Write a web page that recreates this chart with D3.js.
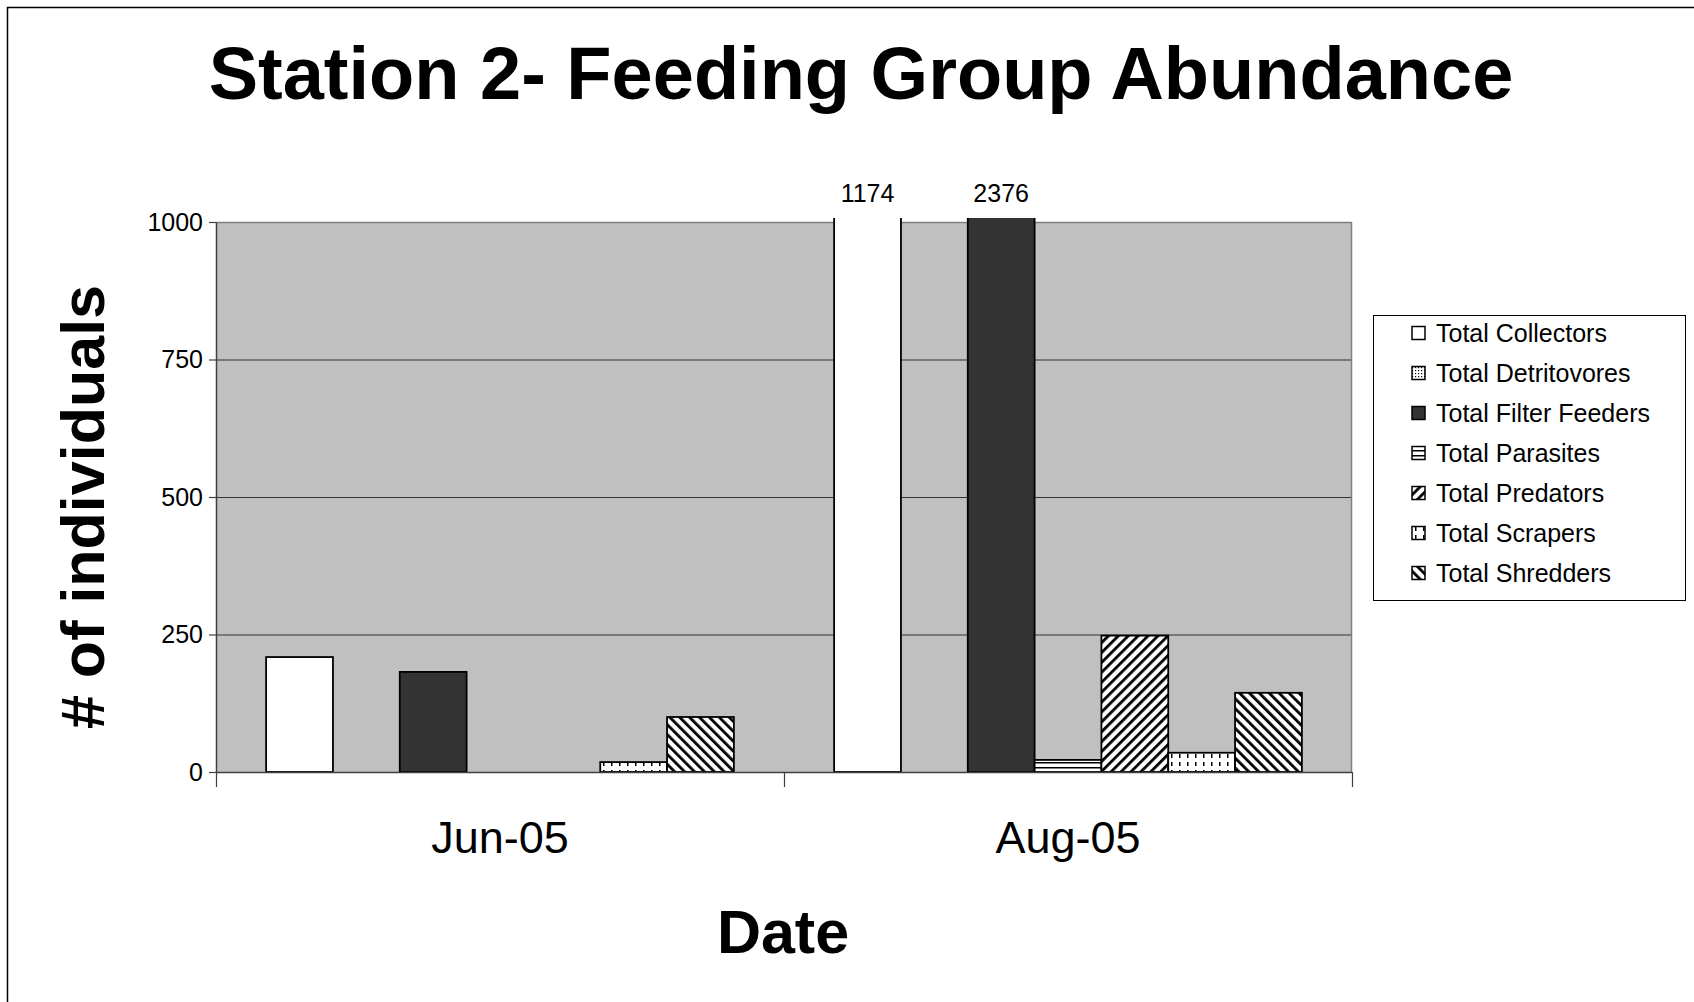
<!DOCTYPE html>
<html><head><meta charset="utf-8">
<script src="https://cdn.jsdelivr.net/npm/d3@7"></script>
<style>body{margin:0;background:#fff}svg{display:block}text{font-family:"Liberation Sans",Arial,sans-serif;fill:#000}</style>
</head><body><svg id="c" width="1694" height="1002"></svg>
<script>
const categories = ["Jun-05", "Aug-05"];
const seriesNames = ["Total Collectors", "Total Detritovores", "Total Filter Feeders", "Total Parasites", "Total Predators", "Total Scrapers", "Total Shredders"];
const collectors = [209, 1174];
const detritovores = [0, 0];
const filterFeeders = [182, 2376];
const parasites = [0, 22];
const predators = [0, 248];
const scrapers = [18, 35];
const shredders = [100, 144];
const yTicks = [0, 250, 500, 750, 1000];
const yMax = 1000;

const seriesValues = [collectors, detritovores, filterFeeders, parasites, predators, scrapers, shredders];
const fills = ["#ffffff", "url(#pDet)", "#333333", "url(#pPar)", "url(#pPred)", "url(#pScr)", "url(#pShr)"];

const svg = d3.select("#c");
const W = 1694, H = 1002;
const plot = {left: 216, right: 1352, top: 222, bottom: 772};

// patterns
const defs = svg.append("defs");
const pDet = defs.append("pattern").attr("id", "pDet").attr("patternUnits", "userSpaceOnUse").attr("width", 3).attr("height", 3);
pDet.append("rect").attr("width", 3).attr("height", 3).attr("fill", "#fff");
pDet.append("rect").attr("width", 1.2).attr("height", 1.2).attr("fill", "#000");
const pPar = defs.append("pattern").attr("id", "pPar").attr("patternUnits", "userSpaceOnUse").attr("width", 6).attr("height", 5);
pPar.append("rect").attr("width", 6).attr("height", 5).attr("fill", "#fff");
pPar.append("rect").attr("y", 2).attr("width", 6).attr("height", 1.5).attr("fill", "#000");
function stripes(id, angle) {
  const p = defs.append("pattern").attr("id", id).attr("patternUnits", "userSpaceOnUse")
    .attr("width", 7).attr("height", 7).attr("patternTransform", `rotate(${angle})`);
  p.append("rect").attr("width", 7).attr("height", 7).attr("fill", "#fff");
  p.append("rect").attr("x", 0).attr("width", 2.8).attr("height", 7).attr("fill", "#000");
}
stripes("pPred", 45);
stripes("pShr", -45);
const pScr = defs.append("pattern").attr("id", "pScr").attr("patternUnits", "userSpaceOnUse").attr("width", 8).attr("height", 8);
pScr.append("rect").attr("width", 8).attr("height", 8).attr("fill", "#fff");
pScr.append("rect").attr("x", 3).attr("y", 2).attr("width", 1.5).attr("height", 4).attr("fill", "#000");
defs.append("clipPath").attr("id", "clipPlot").append("rect")
  .attr("x", plot.left - 2).attr("y", plot.top - 4).attr("width", plot.right - plot.left + 4).attr("height", plot.bottom - plot.top + 6);

// outer frame
svg.append("path").attr("d", `M7.5,${H} V7.5 H${W}`).attr("fill", "none").attr("stroke", "#000").attr("stroke-width", 1.5);

// title
svg.append("text").attr("x", 861).attr("y", 99).attr("text-anchor", "middle")
  .attr("font-size", 74).attr("font-weight", "bold").text("Station 2- Feeding Group Abundance");

// scales
const y = d3.scaleLinear().domain([0, yMax]).range([plot.bottom, plot.top]);
const x0 = d3.scaleBand().domain(categories).range([plot.left, plot.right]).padding(0);
const x1 = d3.scaleBand().domain(seriesNames).range([0, x0.bandwidth()]).paddingInner(0).paddingOuter(0.75);

// plot background
svg.append("rect").attr("x", plot.left).attr("y", plot.top).attr("width", plot.right - plot.left)
  .attr("height", plot.bottom - plot.top).attr("fill", "#c0c0c0");

// gridlines
svg.append("g").selectAll("line").data(yTicks.filter(t => t > 0 && t < yMax)).join("line")
  .attr("x1", plot.left).attr("x2", plot.right).attr("y1", d => y(d) + 0.5).attr("y2", d => y(d) + 0.5)
  .attr("stroke", "#333").attr("stroke-width", 1);
// plot border top/right
svg.append("path").attr("d", `M${plot.left},${plot.top + 0.5} H${plot.right - 0.5} V${plot.bottom}`)
  .attr("fill", "none").attr("stroke", "#808080").attr("stroke-width", 1.5);

// bars
const barData = [];
categories.forEach((c, ci) => seriesNames.forEach((s, si) => {
  const v = seriesValues[si][ci];
  if (v > 0) barData.push({c, s, v, fill: fills[si]});
}));
const bars = svg.append("g").attr("clip-path", "url(#clipPlot)");
bars.selectAll("rect").data(barData).join("rect")
  .attr("x", d => x0(d.c) + x1(d.s))
  .attr("y", d => y(d.v))
  .attr("width", x1.bandwidth())
  .attr("height", d => y(0) - y(d.v))
  .attr("fill", d => d.fill)
  .attr("stroke", "#000").attr("stroke-width", 1.8);

// labels for bars exceeding the axis max
svg.append("g").selectAll("text").data(barData.filter(d => d.v > yMax)).join("text")
  .attr("x", d => x0(d.c) + x1(d.s) + x1.bandwidth() / 2)
  .attr("y", plot.top - 20)
  .attr("text-anchor", "middle").attr("font-size", 25).text(d => d.v);

// y axis
const yAxis = svg.append("g").attr("transform", `translate(${plot.left},0)`)
  .call(d3.axisLeft(y).tickValues(yTicks).tickFormat(d3.format("d")).tickSize(7).tickSizeOuter(0).tickPadding(6));
yAxis.select(".domain").attr("stroke", "#404040").attr("stroke-width", 1.5);
yAxis.selectAll(".tick line").attr("stroke", "#404040").attr("stroke-width", 1.2);
yAxis.selectAll(".tick text").attr("font-size", 25).attr("font-family", '"Liberation Sans",Arial,sans-serif').attr("fill", "#000");

// x axis line & boundary ticks
const xb = d3.scaleLinear().domain([0, categories.length]).range([plot.left, plot.right]);
const xAxis = svg.append("g").attr("transform", `translate(0,${plot.bottom})`)
  .call(d3.axisBottom(xb).tickValues(d3.range(categories.length + 1)).tickSize(15).tickSizeOuter(0).tickFormat(""));
xAxis.select(".domain").attr("stroke", "#404040").attr("stroke-width", 1.5);
xAxis.selectAll(".tick line").attr("stroke", "#404040").attr("stroke-width", 1.2);

// category labels
svg.append("g").selectAll("text").data(categories).join("text")
  .attr("x", d => x0(d) + x0.bandwidth() / 2).attr("y", 853)
  .attr("text-anchor", "middle").attr("font-size", 45).text(d => d);

// axis titles
svg.append("text").attr("x", 783).attr("y", 953).attr("text-anchor", "middle")
  .attr("font-size", 61).attr("font-weight", "bold").text("Date");
svg.append("text").attr("transform", "translate(104,507) rotate(-90)").attr("text-anchor", "middle")
  .attr("font-size", 61).attr("font-weight", "bold").text("# of individuals");

// legend
const lg = svg.append("g");
lg.append("rect").attr("x", 1373.5).attr("y", 315.5).attr("width", 312).attr("height", 285)
  .attr("fill", "#fff").attr("stroke", "#000").attr("stroke-width", 1);
const items = lg.selectAll("g.item").data(seriesNames).join("g").attr("class", "item")
  .attr("transform", (d, i) => `translate(1412,${333 + i * 40})`);
items.append("rect").attr("x", 0).attr("y", -6.5).attr("width", 13).attr("height", 13)
  .attr("fill", (d, i) => fills[i]).attr("stroke", "#000").attr("stroke-width", 1.5);
items.append("text").attr("x", 24).attr("y", 9).attr("font-size", 25).text(d => d);
</script></body></html>
